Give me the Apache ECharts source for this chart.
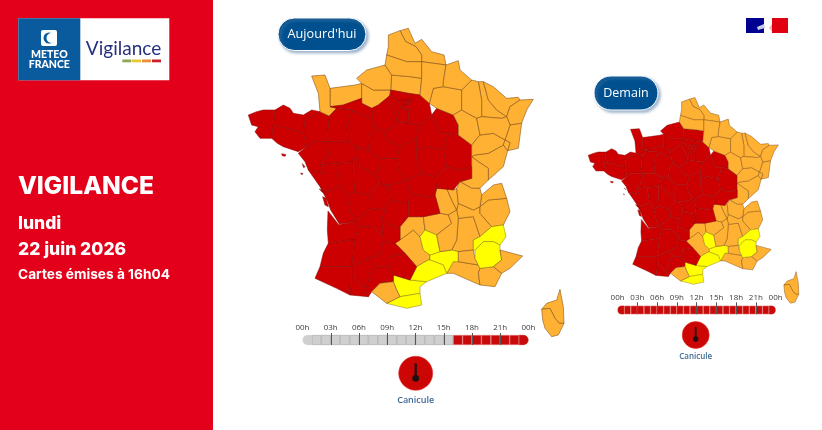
<!DOCTYPE html>
<html><head><meta charset="utf-8">
<style>html,body{margin:0;padding:0;background:#fff}#c{width:822px;height:430px}</style>
<script src="https://cdn.jsdelivr.net/npm/echarts@6/dist/echarts.min.js"></script>
</head><body><div id="c"></div>
<script>
// --- Data ---
const redToday = ["61","53","72","35","22","29","56","44","49","85","79","17","16","86","37","41","45","18","36","89","10","58","21","71","03","23","87","19","63","46","24","47","33","40","82","81","32","31","65","64","95","77","78","92","75","93","94","91","28"];
const yellowToday = ["48","30","34","11","66","05","04"];
const extraRedTomorrow = ["50","14","76","27","60"];
const yellowTomorrow = ["48","30","34","11","66","05","04"];
const hourTicks = [0,3,6,9,12,15,18,21,24];
const hourTickLabels = ["00h","03h","06h","09h","12h","15h","18h","21h","00h"];
const hoursToday = [0,0,0,0,0,0,0,0,0,0,0,0,0,0,0,0,4,4,4,4,4,4,4,4];
const hoursTomorrow = [4,4,4,4,4,4,4,4,4,4,4,4,4,4,4,4,4,4,4,4,4,4,4,4];
const LEVEL_YELLOW = 2, LEVEL_ORANGE = 3, LEVEL_RED = 4;

// --- Base map outlines (département geometry, hand-traced) ---
const deptOutlines = {
"59":"480,62 505,55 525,100 545,88 575,125 612,135 618,165 545,155 545,135 528,110 497,95",
"62":"445,75 480,62 497,95 528,110 545,135 545,155 500,155 440,135 445,110",
"80":"440,135 500,155 545,155 545,205 510,200 455,195 435,165",
"76":"350,205 380,180 435,165 455,195 452,240 400,240 365,220",
"60":"455,195 510,200 545,205 540,255 505,250 452,240",
"02":"545,155 618,165 610,215 610,230 580,235 568,280 540,255 545,205",
"08":"618,165 655,152 660,180 695,210 665,240 610,230 610,215",
"51":"610,230 665,240 665,300 640,315 590,295 568,280 580,235",
"27":"365,220 400,240 452,240 450,255 440,265 415,285 395,295 365,280",
"95":"450,255 452,240 505,250 512,270 470,270",
"77":"505,250 540,255 568,280 575,315 540,345 505,340 505,300 512,270",
"78":"450,255 470,270 482,292 470,320 440,265",
"92":"482,292 470,270 490,270 490,285",
"75":"490,278 500,278 500,285 490,285",
"93":"490,270 512,270 500,278 490,278",
"94":"490,285 500,285 500,278 512,270 505,300 482,292",
"91":"482,292 505,300 505,340 470,335 470,320",
"28":"395,295 415,285 440,265 470,320 470,335 465,350 430,365 405,350 400,330",
"14":"270,235 345,225 365,220 365,265 310,285 270,290",
"50":"215,198 255,195 270,235 270,290 290,295 268,318 240,305 235,250",
"61":"290,295 270,290 310,285 365,265 365,280 395,295 400,330 340,300",
"53":"268,318 290,295 340,300 320,345 325,395 270,395 262,380",
"72":"320,345 340,300 400,330 405,350 390,375 385,420 350,410 325,395",
"35":"195,330 240,305 268,318 262,380 270,395 220,395 200,410 190,370",
"22":"105,300 130,285 150,295 160,310 190,315 215,300 240,305 195,330 190,370 140,355 100,345",
"29":"25,315 50,305 70,300 105,300 100,345 95,385 60,385 45,365 55,350 35,345",
"56":"100,345 140,355 190,370 200,410 175,425 130,410 112,400 95,385",
"44":"175,430 200,410 220,395 270,395 265,435 240,465 255,490 205,480 195,455",
"49":"270,395 325,395 350,410 345,440 340,455 290,460 240,465 265,435",
"85":"205,480 255,490 240,465 290,460 300,525 270,545 240,530",
"79":"290,460 340,455 340,490 345,545 320,555 300,525",
"17":"240,530 270,545 300,525 320,555 330,600 345,635 298,642 272,600 262,572",
"16":"320,555 345,545 385,555 395,570 395,595 375,610 345,635 330,600",
"86":"345,440 360,470 405,495 420,520 385,555 345,545 340,490 340,455",
"37":"350,410 385,420 420,445 415,480 405,495 360,470 345,440",
"41":"405,350 430,365 440,390 480,410 470,445 420,445 385,420 390,375",
"45":"430,365 465,350 470,335 505,340 540,345 530,385 480,410 440,390",
"18":"480,410 530,385 530,420 530,450 545,490 500,510 475,480 470,445",
"36":"420,445 470,445 475,480 500,510 450,525 420,520 405,495 415,480",
"89":"540,345 575,315 600,370 625,370 610,420 560,410 530,420 530,385",
"10":"575,315 590,295 640,315 655,345 655,375 625,370 600,370",
"58":"530,420 560,410 610,420 620,470 600,490 585,500 545,490 530,450",
"21":"625,370 655,375 695,405 695,440 695,470 665,480 620,470 610,420",
"71":"620,470 665,480 695,470 695,505 660,515 640,540 590,535 585,500 600,490",
"03":"500,510 545,490 585,500 590,535 585,555 560,560 510,550",
"23":"420,520 450,525 500,510 510,550 505,580 450,570 445,530",
"87":"385,555 420,520 445,530 450,570 435,600 395,595 395,570",
"19":"435,600 450,570 505,580 505,620 480,650 470,655 425,630",
"63":"510,550 560,560 585,555 600,610 550,620 505,620 505,580",
"42":"585,555 590,535 620,535 635,570 650,600 625,615 600,610",
"69":"620,535 640,540 650,535 655,580 650,600 635,570",
"01":"650,535 660,515 695,535 720,535 725,555 720,590 700,600 655,580",
"39":"695,440 715,455 745,475 745,510 720,535 695,535 660,515 695,505 695,470",
"38":"655,580 700,600 720,590 720,610 755,650 720,680 700,620 655,625 650,600",
"74":"725,555 760,525 785,520 800,565 745,570 720,590",
"73":"720,590 745,570 800,565 810,605 790,645 755,650 720,610",
"43":"550,620 600,610 625,615 635,640 590,675 555,660",
"07":"625,615 650,600 655,625 650,690 635,720 600,725 590,675 635,640",
"26":"655,625 700,620 720,680 700,690 700,720 655,725 635,720 650,690",
"84":"655,725 700,720 705,745 715,765 655,755",
"05":"700,690 720,680 755,650 790,645 798,680 780,705 760,695 730,695 705,720 700,720",
"04":"705,720 730,695 760,695 780,705 780,720 785,750 760,770 720,775 715,765 705,745",
"06":"780,720 848,738 810,775 785,790 760,770 785,750",
"83":"720,775 760,770 785,790 765,830 720,825 715,790",
"13":"640,755 655,755 715,765 720,775 715,790 720,825 640,790 620,790",
"30":"600,725 635,720 655,725 655,755 640,755 620,790 610,765 570,750 570,735",
"48":"540,680 555,660 590,675 600,725 570,735 550,720",
"34":"530,770 565,750 570,750 610,765 620,790 560,815 510,810",
"12":"465,700 520,660 540,680 550,720 570,735 570,750 565,750 530,770 495,730",
"15":"505,620 550,620 555,660 540,680 520,660 480,690 480,650",
"46":"425,630 470,655 480,650 480,690 465,700 430,695 430,680",
"24":"345,635 375,610 395,595 435,600 425,630 430,680 400,650 355,650",
"47":"345,690 355,650 400,650 430,680 430,695 420,735 385,745 335,770",
"33":"264,603 296,644 345,635 355,650 345,690 330,690 265,700 262,660",
"40":"265,700 330,690 345,690 335,770 240,770 250,730",
"82":"385,745 420,735 430,695 465,700 495,730 450,740 445,770 410,770",
"81":"450,740 495,730 530,770 510,810 460,795 445,770",
"32":"335,770 385,745 410,770 395,780 375,840 335,795",
"31":"375,840 395,780 410,770 445,770 460,795 460,815 420,820 395,845 385,860",
"65":"335,795 375,840 385,860 330,855 335,820",
"64":"225,805 240,770 335,770 335,795 335,820 330,855 290,835",
"09":"395,845 420,820 460,815 470,840 480,860 440,880",
"11":"460,795 510,810 560,815 540,830 540,850 480,860 470,840 460,815",
"66":"480,860 540,850 545,885 500,895 440,880",
"55":"665,240 695,210 715,215 725,270 725,320 710,325 665,300",
"54":"715,215 730,215 745,270 770,300 800,320 785,325 725,320 725,270",
"57":"730,215 760,230 800,265 835,262 840,270 810,290 800,320 770,300 745,270",
"67":"840,270 880,268 860,300 845,340 810,345 800,320 810,290",
"68":"810,345 845,340 835,415 803,422 810,398 795,390",
"90":"795,390 810,398 803,422 790,405",
"88":"710,325 725,320 785,325 800,320 810,345 795,390 760,370 720,375",
"52":"640,315 665,300 710,325 720,375 695,405 655,375 655,345",
"70":"695,405 720,375 760,370 795,390 790,405 745,430 705,435 695,440",
"25":"705,435 745,430 790,405 803,422 790,470 745,510 745,475 715,455 695,440",
"2B":"960,838 963,855 970,890 972,940 958,940 945,925 930,895 905,898 920,880 950,870",
"2A":"905,898 930,895 945,925 958,940 972,940 955,975 935,980 915,955 908,930"
};
const deptIslands = {
"56":["125,431 138,434 135,439 127,437"],
"85":["187,461 195,470 191,473","182,489 189,491 185,494"],
"17":["238,537 258,547 258,552 245,545","248,560 258,565 265,590 255,585"]
};

const parseRing = s => { const r = s.split(' ').map(p => { const [x,y] = p.split(',').map(Number); return [x,-y]; }); r.push(r[0]); return r; };
const features = Object.keys(deptOutlines).map(code => {
  const main = [parseRing(deptOutlines[code])];
  const isl = (deptIslands[code] || []).map(s => [parseRing(s)]);
  return { type:'Feature', properties:{name:code},
    geometry: isl.length ? {type:'MultiPolygon', coordinates:[main].concat(isl)} : {type:'Polygon', coordinates:main} };
});
// two map names: ECharts merges map series that share a name
echarts.registerMap('franceAujourdhui', {type:'FeatureCollection', features});
echarts.registerMap('franceDemain', {type:'FeatureCollection', features});

// bounding box in tracing units (3 units = 1 page pixel, origin at page 240,10)
let bx0=1e9,bx1=-1e9,by0=1e9,by1=-1e9;
Object.values(deptOutlines).concat(...Object.values(deptIslands)).forEach(s=>parseRing(s).forEach(([x,y])=>{
  bx0=Math.min(bx0,x);bx1=Math.max(bx1,x);by0=Math.min(by0,-y);by1=Math.max(by1,-y);}));
const boxBig = {left:240+bx0/3, top:10+by0/3, width:(bx1-bx0)/3, height:(by1-by0)/3};
const K = 0.667;
const boxSmall = {left:588+(240+bx0/3-248)*K, top:97+(10+by0/3-27.5)*K, width:(bx1-bx0)/3*K, height:(by1-by0)/3*K};

const edge = {[LEVEL_RED]:'#8c0808',[LEVEL_ORANGE]:'#7d4a12',[LEVEL_YELLOW]:'#8f8412'};
function mapData(red, yellow){
  return Object.keys(deptOutlines).map(code=>{
    const v = red.includes(code)?LEVEL_RED:yellow.includes(code)?LEVEL_YELLOW:LEVEL_ORANGE;
    return {name:code,value:v,itemStyle:{borderColor:edge[v]}};
  });
}
function mapSeries(mapName,box,data,bw){
  return Object.assign({type:'map',map:mapName,aspectScale:1,roam:false,silent:true,selectedMode:false,
    label:{show:false},itemStyle:{borderWidth:bw},data},box);
}
const hourColor = {0:'#cfcfcf',4:'#c80a0a'};
const hourEdge = {0:'#a5a5a5',4:'#e46a6a'};
function barSeries(hours,xi,yi){
  return {type:'bar',xAxisIndex:xi,yAxisIndex:yi,barCategoryGap:'0%',silent:true,z:2,
    data:hours.map((h,i)=>({value:1,itemStyle:{color:hourColor[h],borderColor:i===0||i===23?hourColor[h]:hourEdge[h],borderWidth:.6,
      borderRadius:i===0?[5,0,0,5]:i===23?[0,5,5,0]:0}}))};
}
function timeAxes(gi,fs){
  return [
   {type:'category',gridIndex:gi,show:false,data:hoursToday.map((_,i)=>i)},
   {type:'value',gridIndex:gi,position:'top',min:0,max:24,interval:3,z:5,splitLine:{show:false},axisLine:{show:false},
    axisTick:{show:true,inside:true,length:12,customValues:hourTicks.slice(1,-1),lineStyle:{color:'#555',width:1}},
    axisLabel:{show:true,margin:1,fontSize:fs,color:'#3c3c3c',fontFamily:'Open Sans',showMinLabel:true,showMaxLabel:true,hideOverlap:false,
      customValues:hourTicks,formatter:v=>hourTickLabels[hourTicks.indexOf(v)]}}
  ];
}
const W='#fff';
function thermo(cx,cy,r){
  const s=r/17;
  return {type:'group',children:[
    {type:'circle',shape:{cx,cy,r},style:{fill:'#cc0505',stroke:'#e33030',lineWidth:.6}},
    {type:'line',shape:{x1:cx,y1:cy-9*s,x2:cx,y2:cy+4*s},style:{stroke:'#1c1010',lineWidth:2.2*s,lineCap:'round'}},
    {type:'circle',shape:{cx,cy:cy+5*s,r:3.4*s},style:{fill:'#1c1010'}}
  ]};
}
function txt(x,y,text,font,fill,align){
  return {type:'text',x,y,style:{text,font,fill,align:align||'left',verticalAlign:'middle'}};
}
function pill(x,y,w,h,label,fs){
  return {type:'group',children:[
    {type:'rect',shape:{x,y,width:w,height:h,r:h/2},style:{fill:'#00508f',stroke:'#fff',lineWidth:1,shadowColor:'rgba(120,150,185,.75)',shadowBlur:3,shadowOffsetX:2,shadowOffsetY:2}},
    txt(x+w/2,y+h/2,label,fs+'px "Open Sans"',W,'center')
  ]};
}
const graphics=[
 {type:'rect',shape:{x:0,y:0,width:213,height:430},style:{fill:'#e2001a'}},
 {type:'rect',shape:{x:18.3,y:18.3,width:151,height:62},style:{fill:'#fff'}},
 {type:'rect',shape:{x:18.3,y:18.3,width:62,height:62},style:{fill:'#0a5a9e'}},
 {type:'rect',shape:{x:41,y:30,width:16,height:16,r:2},style:{fill:'#fff'}},
 {type:'circle',shape:{cx:49,cy:38,r:5.5},style:{fill:'#0a5a9e'}},
 {type:'circle',shape:{cx:51.5,cy:38,r:5},style:{fill:'#fff'}},
 txt(49.3,54.5,'METEO','900 10.5px Lato',W,'center'),
 txt(49.3,64.5,'FRANCE','900 10.5px Lato',W,'center'),
 txt(123.5,49,'Vigilance','400 19px Lato','#26307f','center'),
 {type:'rect',shape:{x:122.3,y:59.5,width:9,height:2.8},style:{fill:'#8fa654'}},
 {type:'rect',shape:{x:132,y:59.5,width:9,height:2.8},style:{fill:'#e4c832'}},
 {type:'rect',shape:{x:142,y:59.5,width:9,height:2.8},style:{fill:'#ef8a35'}},
 {type:'rect',shape:{x:152,y:59.5,width:9,height:2.8},style:{fill:'#c8202f'}},
 txt(18,187,'VIGILANCE','800 24.5px Inter',W),
 txt(18,223.5,'lundi','800 17.5px Inter',W),
 txt(18,250,'22 juin 2026','800 17.5px Inter',W),
 txt(18,275,'Cartes émises à 16h04','700 13.7px Inter',W),
 pill(278,18,88,32.5,"Aujourd'hui",12.7),
 pill(594,76,64,34,'Demain',12.5),
 {type:'rect',shape:{x:746,y:18,width:18,height:15},style:{fill:'#000091'}},
 {type:'rect',shape:{x:772,y:18,width:16,height:15},style:{fill:'#e1000f'}},
 {type:'polygon',shape:{points:[[757,27],[764,24],[765,28],[758,30]]},style:{fill:'#c9cbe8'}},
 {type:'polygon',shape:{points:[[772,24],[769,28],[772,31]]},style:{fill:'#f4b0b4'}},
 thermo(415.7,373.3,17),
 txt(415.7,400,'Canicule','600 9px "Open Sans"','#3d6a96','center'),
 thermo(695.7,335,13.5),
 txt(695.7,357,'Canicule','600 8px "Open Sans"','#3d6a96','center')
];

const chart = echarts.init(document.getElementById('c'),null,{renderer:'canvas',width:822,height:430});
chart.setOption({
  animation:false,backgroundColor:'#fff',
  tooltip:{show:false},
  visualMap:{type:'piecewise',show:false,seriesIndex:[0,1],
    pieces:[{value:LEVEL_YELLOW,color:'#ffff00'},{value:LEVEL_ORANGE,color:'#ffb133'},{value:LEVEL_RED,color:'#cc0000'}]},
  grid:[
    {left:302.5,width:226,top:333,height:12},
    {left:617.6,width:158,top:302.3,height:12}
  ],
  xAxis:[...timeAxes(0,8),...timeAxes(1,8)],
  yAxis:[
    {type:'value',gridIndex:0,show:false,min:0,max:1.2},
    {type:'value',gridIndex:1,show:false,min:0,max:1.395}
  ],
  graphic:{elements:graphics},
  series:[
    mapSeries('franceAujourdhui',boxBig,mapData(redToday,yellowToday),.55),
    mapSeries('franceDemain',boxSmall,mapData(redToday.concat(extraRedTomorrow),yellowTomorrow),.45),
    barSeries(hoursToday,0,0),
    barSeries(hoursTomorrow,2,1)
  ]
});
</script></body></html>
